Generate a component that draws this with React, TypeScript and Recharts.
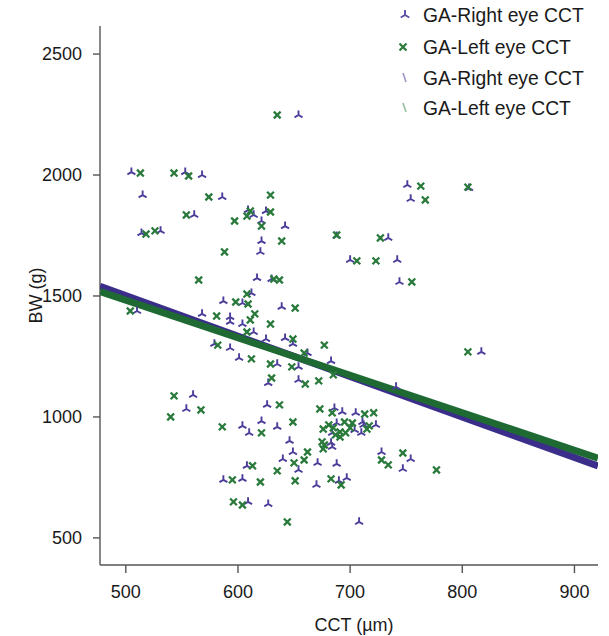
import React from 'react';
import { ScatterChart, Scatter, XAxis, YAxis } from 'recharts';

// GA-Right eye CCT: [CCT (µm), BW (g)]
const rightEye: [number, number][] = [
  [654, 2248], [505, 2012], [553, 2012], [568, 2000], [515, 1917], [586, 1909],
  [609, 1855], [614, 1835], [625, 1851], [561, 1835], [621, 1810], [642, 1789],
  [514, 1760], [531, 1769], [621, 1727], [688, 1748], [620, 1682], [617, 1574],
  [630, 1570], [612, 1512], [751, 1959], [806, 1946], [754, 1901], [734, 1740],
  [700, 1649], [742, 1649], [744, 1558], [587, 1479], [604, 1471], [639, 1455],
  [510, 1438], [568, 1426], [593, 1413], [593, 1393], [604, 1384], [614, 1351],
  [642, 1326], [625, 1322], [649, 1302], [579, 1302], [593, 1285], [662, 1264],
  [601, 1244], [683, 1231], [635, 1219], [654, 1207], [627, 1140], [654, 1153],
  [817, 1269], [741, 1124], [560, 1091], [554, 1033], [626, 1050], [686, 1037],
  [693, 1021], [705, 1017], [604, 963], [621, 983], [635, 959], [610, 934],
  [688, 975], [711, 979], [712, 967], [723, 967], [704, 946], [710, 934],
  [684, 934], [683, 893], [684, 876], [646, 901], [649, 855], [640, 826],
  [671, 810], [688, 806], [654, 781], [608, 798], [587, 740], [604, 744],
  [670, 719], [690, 736], [697, 748], [609, 649], [627, 640], [708, 566],
  [728, 855], [754, 826], [747, 785],
];

// GA-Left eye CCT: [CCT (µm), BW (g)]
const leftEye: [number, number][] = [
  [635, 2248], [513, 2008], [543, 2008], [556, 1996], [574, 1909], [629, 1917],
  [611, 1851], [608, 1830], [629, 1847], [554, 1835], [597, 1810], [621, 1789],
  [518, 1756], [526, 1769], [639, 1727], [688, 1752], [588, 1682], [565, 1566],
  [632, 1570], [637, 1566], [608, 1508], [763, 1954], [805, 1950], [767, 1897],
  [727, 1740], [706, 1645], [723, 1645], [755, 1558], [598, 1475], [609, 1467],
  [651, 1450], [504, 1438], [581, 1417], [615, 1426], [611, 1401], [629, 1384],
  [608, 1351], [649, 1322], [582, 1297], [677, 1297], [659, 1264], [612, 1240],
  [629, 1219], [648, 1207], [685, 1174], [630, 1161], [660, 1136], [672, 1149],
  [805, 1269], [543, 1087], [567, 1029], [540, 1000], [637, 1050], [673, 1033],
  [684, 1017], [713, 1012], [721, 1017], [586, 959], [649, 979], [621, 934],
  [676, 950], [681, 967], [695, 979], [702, 975], [717, 963], [685, 955],
  [691, 938], [696, 934], [700, 955], [715, 950], [687, 926], [691, 917],
  [675, 897], [677, 884], [676, 868], [662, 855], [659, 822], [650, 810],
  [613, 798], [635, 777], [595, 740], [620, 731], [651, 736], [683, 744],
  [692, 719], [596, 649], [604, 636], [644, 566], [747, 851], [728, 822],
  [734, 802], [777, 781],
];

// Linear fits (end points across the x-axis range)
const rightFit: [number, number][] = [[477, 1540], [921, 797]];
const leftFit: [number, number][] = [[477, 1518], [921, 830]];

const xTicks = [500, 600, 700, 800, 900];
const yTicks = [500, 1000, 1500, 2000, 2500];
const legendNames = ['GA-Right eye CCT', 'GA-Left eye CCT', 'GA-Right eye CCT', 'GA-Left eye CCT'];

const PURPLE = '#4a3e9a';
const GREEN = '#2a7a3c';
const PURPLE_LINE = '#3a2e8a';
const GREEN_LINE = '#1f6a33';

const toPts = (arr: [number, number][]) => arr.map(([x, y]) => ({ x, y }));

const TriUp = (props: any) => {
  const { cx, cy } = props;
  if (cx == null || cy == null) return <g />;
  const r = 4.6;
  const d = `M${cx},${cy}L${cx},${cy - r}M${cx},${cy}L${cx - r * 0.866},${cy + r * 0.5}M${cx},${cy}L${cx + r * 0.866},${cy + r * 0.5}`;
  return <path d={d} stroke={PURPLE} strokeWidth={1.9} fill="none" />;
};

const XMark = (props: any) => {
  const { cx, cy } = props;
  if (cx == null || cy == null) return <g />;
  const r = 3.4;
  const d = `M${cx - r},${cy - r}L${cx + r},${cy + r}M${cx + r},${cy - r}L${cx - r},${cy + r}`;
  return <path d={d} stroke={GREEN} strokeWidth={2.3} fill="none" />;
};

const Empty = () => <g />;

const LegendBox = () => {
  const font = { fontFamily: '"Liberation Sans", Arial, sans-serif', fontSize: 19.3, fill: '#1a1a1a' };
  const ys = [15, 47, 78, 108];
  return (
    <svg width={219} height={125} style={{ display: 'block' }}>
      <path
        d={`M15,${ys[0]}L15,${ys[0] - 5}M15,${ys[0]}L${15 - 4.3},${ys[0] + 2.5}M15,${ys[0]}L${15 + 4.3},${ys[0] + 2.5}`}
        stroke="#5b4fa6" strokeWidth={1.9} fill="none"
      />
      <path
        d={`M${13 - 3.5},${ys[1] - 3.5}L${13 + 3.5},${ys[1] + 3.5}M${13 + 3.5},${ys[1] - 3.5}L${13 - 3.5},${ys[1] + 3.5}`}
        stroke={GREEN} strokeWidth={2.2} fill="none"
      />
      <line x1={13} y1={ys[2] - 5} x2={16} y2={ys[2] + 4} stroke="#9f97cc" strokeWidth={1.6} />
      <line x1={13} y1={ys[3] - 5} x2={16} y2={ys[3] + 4} stroke="#96bfa0" strokeWidth={1.6} />
      {legendNames.map((n, i) => (
        <text key={i} x={33} y={ys[i]} dy="0.35em" {...font}>{n}</text>
      ))}
    </svg>
  );
};

export default function App() {
  const axisFont = { fontFamily: '"Liberation Sans", Arial, sans-serif', fontSize: 18, fill: '#1a1a1a' };
  return (
    <div style={{ position: 'absolute', left: 0, top: 0, width: 609, height: 636, background: '#fff' }}>
      <ScatterChart width={609} height={636} margin={{ top: 26, right: 11, bottom: 0, left: 0 }}>
        <XAxis
          type="number"
          dataKey="x"
          domain={[477, 921]}
          ticks={xTicks}
          allowDataOverflow
          height={71}
          tickSize={8}
          tickMargin={12}
          tick={axisFont}
          stroke="#555"
          strokeWidth={1.4}
          label={{ value: 'CCT (µm)', position: 'center', dx: 5, dy: 24, style: { ...axisFont, fontSize: 18 } }}
        />
        <YAxis
          type="number"
          dataKey="y"
          domain={[388, 2616]}
          ticks={yTicks}
          allowDataOverflow
          width={100}
          tickSize={7}
          tickMargin={11}
          tick={axisFont}
          stroke="#555"
          strokeWidth={1.4}
          label={{ value: 'BW (g)', angle: -90, position: 'center', dx: -14, style: { ...axisFont, fontSize: 18 } }}
        />
        <Scatter
          name="GA-Right eye CCT fit"
          data={toPts(rightFit)}
          line={{ stroke: PURPLE_LINE, strokeWidth: 7 }}
          shape={Empty}
          legendType="none"
          isAnimationActive={false}
        />
        <Scatter
          name="GA-Left eye CCT fit"
          data={toPts(leftFit)}
          line={{ stroke: GREEN_LINE, strokeWidth: 7 }}
          shape={Empty}
          legendType="none"
          isAnimationActive={false}
        />
        <Scatter
          name="GA-Right eye CCT"
          data={toPts(rightEye)}
          shape={TriUp}
          isAnimationActive={false}
        />
        <Scatter
          name="GA-Left eye CCT"
          data={toPts(leftEye)}
          shape={XMark}
          isAnimationActive={false}
        />
      </ScatterChart>
      <div style={{ position: 'absolute', left: 390, top: 0 }}>
        <LegendBox />
      </div>
    </div>
  );
}
